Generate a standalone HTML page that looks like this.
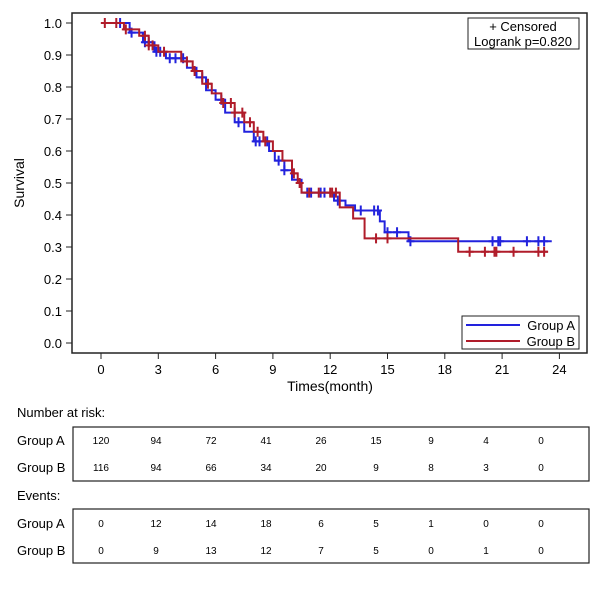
<!DOCTYPE html>
<html><head><meta charset="utf-8"><style>
body{margin:0;background:#fff;width:600px;height:600px;overflow:hidden}
svg text{font-family:"Liberation Sans","DejaVu Sans",sans-serif;fill:#000}
</style></head><body>
<svg id="chart" width="600" height="600">
<rect x="72" y="13" width="515" height="340" fill="none" stroke="#222" stroke-width="1.5"/>
<g id="yaxis"></g>
<g id="xaxis"></g>
<text x="24" y="183" font-size="14" text-anchor="middle" transform="rotate(-90 24 183)">Survival</text>
<text x="330" y="391" font-size="14" text-anchor="middle">Times(month)</text>
<g id="series"></g>
<g>
<rect x="468" y="18" width="111" height="31" fill="#fff" stroke="#222"/>
<text x="523" y="31" font-size="13" text-anchor="middle">+ Censored</text>
<text x="523" y="46" font-size="13" text-anchor="middle">Logrank p=0.820</text>
</g>
<g>
<rect x="462" y="316" width="117" height="33" fill="#fff" stroke="#222"/>
<line x1="466" y1="325" x2="520" y2="325" stroke="#2222dd" stroke-width="2"/>
<text x="575" y="330" font-size="13" text-anchor="end">Group A</text>
<line x1="466" y1="341" x2="520" y2="341" stroke="#b01c2a" stroke-width="2"/>
<text x="575" y="346" font-size="13" text-anchor="end">Group B</text>
</g>
<text x="17" y="417" font-size="13">Number at risk:</text>
<rect x="73" y="427" width="516" height="54" fill="none" stroke="#222" stroke-width="1.2"/>
<text x="17" y="445" font-size="13">Group A</text>
<text x="17" y="472" font-size="13">Group B</text>
<text x="17" y="500" font-size="13">Events:</text>
<rect x="73" y="509" width="516" height="54" fill="none" stroke="#222" stroke-width="1.2"/>
<text x="17" y="528" font-size="13">Group A</text>
<text x="17" y="555" font-size="13">Group B</text>
<g id="tables"></g>
</svg>
<script>
const xTicks=[0,3,6,9,12,15,18,21,24];
const yTicks=[0,0.1,0.2,0.3,0.4,0.5,0.6,0.7,0.8,0.9,1.0];
const aTimes=[0,1.5,2.2,2.8,3.4,4.5,5.0,5.5,6.0,6.5,7.0,7.5,8.0,8.8,9.1,9.6,10.0,10.5,12.2,12.8,13.3,14.6,14.85,16.1,23.6];
const aSurv=[1,0.97,0.94,0.91,0.89,0.86,0.83,0.79,0.76,0.72,0.69,0.66,0.63,0.6,0.57,0.54,0.51,0.47,0.445,0.43,0.414,0.38,0.346,0.318,0.318];
const bTimes=[0,1.2,2.0,2.5,3.0,4.2,4.8,5.3,5.8,6.3,7.0,7.5,8.0,8.5,9.0,9.5,10.0,10.3,10.5,12.5,13.2,13.8,18.7,23.4];
const bSurv=[1,0.98,0.96,0.93,0.91,0.88,0.85,0.81,0.78,0.75,0.72,0.69,0.66,0.63,0.6,0.57,0.53,0.5,0.47,0.424,0.389,0.327,0.285,0.285];
const aCens=[1.0,1.6,2.3,2.5,2.9,3.1,3.6,3.9,4.3,5.3,6.3,7.2,8.1,8.3,8.7,9.3,9.6,10.8,11.0,11.5,11.7,12.4,13.6,14.3,14.5,15.0,15.5,16.2,20.5,20.8,20.9,22.3,22.9,23.2];
const bCens=[0.2,0.8,1.3,2.3,2.5,2.7,3.3,4.5,4.9,5.6,6.4,6.8,7.0,7.4,7.8,8.2,8.6,10.1,10.4,10.9,11.4,12.0,12.1,12.3,14.4,15.0,19.3,20.1,20.6,20.7,21.6,22.9,23.2];
const riskA=[120,94,72,41,26,15,9,4,0];
const riskB=[116,94,66,34,20,9,8,3,0];
const evA=[0,12,14,18,6,5,1,0,0];
const evB=[0,9,13,12,7,5,0,1,0];
const NS='http://www.w3.org/2000/svg';
const X=t=>101+t*19.1, Y=s=>343-s*320;
function mk(tag,attrs,parent,txt){const e=document.createElementNS(NS,tag);for(const k in attrs)e.setAttribute(k,attrs[k]);if(txt!==undefined)e.textContent=txt;parent.appendChild(e);return e;}
const ya=document.getElementById('yaxis'),xa=document.getElementById('xaxis');
yTicks.forEach(v=>{mk('line',{x1:66,x2:72,y1:Y(v),y2:Y(v),stroke:'#222'},ya);
const t=mk('text',{x:62,y:Y(v)+5,'font-size':13,'text-anchor':'end'},ya,v.toFixed(1));

});
xTicks.forEach(v=>{mk('line',{x1:X(v),x2:X(v),y1:353,y2:359,stroke:'#222'},xa);
const t=mk('text',{x:X(v),y:374,'font-size':13,'text-anchor':'middle'},xa,v);

});
function stepSurv(times,surv,t){let s=surv[0];for(let i=0;i<times.length;i++){if(times[i]<=t)s=surv[i];}return s;}
const sg=document.getElementById('series');
function drawSeries(times,surv,cens,color,name){
let d='M'+X(times[0])+','+Y(surv[0]);
for(let i=1;i<times.length;i++){d+=' H'+X(times[i])+' V'+Y(surv[i]);}
const p=mk('path',{d:d,fill:'none',stroke:color,'stroke-width':2},sg);


cens.forEach(c=>{const x=X(c),y=Y(stepSurv(times,surv,c));
const g=mk('path',{d:`M${x-4},${y} H${x+4} M${x},${y-5} V${y+5}`,stroke:color,'stroke-width':2},sg);

});}
drawSeries(aTimes,aSurv,aCens,'#2222dd','group-a');
drawSeries(bTimes,bSurv,bCens,'#b01c2a','group-b');
const tg=document.getElementById('tables');
const colX=i=>101+i*55;
[[riskA,445],[riskB,472],[evA,528],[evB,555]].forEach(([arr,y])=>{arr.forEach((v,i)=>{
const t=mk('text',{x:colX(i),y:y-1,'font-size':10,'text-anchor':'middle'},tg,v);

});});
</script>
</body></html>
